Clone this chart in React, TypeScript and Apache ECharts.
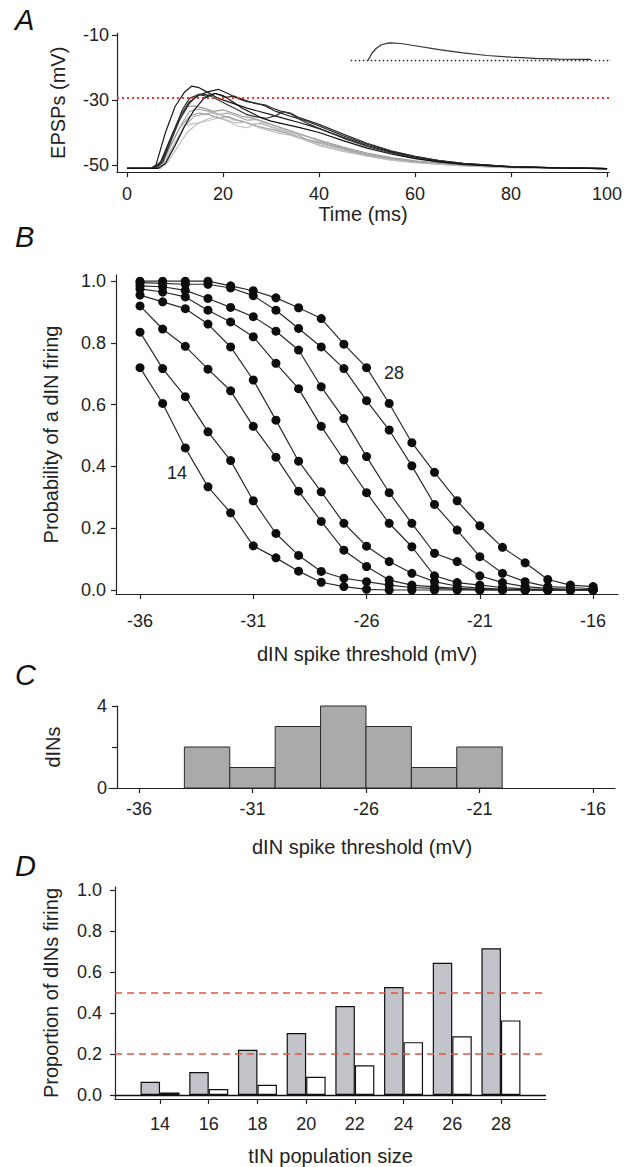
import React, { useEffect, useRef } from "react";
import * as echarts from "echarts";

// ---------- Panel A: EPSP traces ----------
const timeTicks = [0, 20, 40, 60, 80, 100];
const epspTicks = [-50, -30, -10];
const epspThreshold = -29.3;

const blackTrace1 = [[0,-51],[5,-51],[6,-50],[8,-40],[10,-32],[12,-27.5],[13.5,-25.7],[15,-26.2],[17,-27.8],[19,-29.5],[21,-30.5],[23,-31.5],[25,-32.5],[27,-33.3],[30,-34.5],[33,-35.8],[36,-37],[40,-38.8],[45,-41.5],[50,-44],[55,-46],[60,-47.6],[65,-48.8],[70,-49.6],[80,-50.5],[90,-50.9],[100,-51.1]];
const blackTrace2 = [[0,-51],[5.5,-51],[7,-49],[9,-42],[11,-35],[13,-30.5],[15,-28.5],[17,-27.4],[19,-26.7],[21,-28],[23,-29.5],[25,-30.5],[27,-31],[29,-32],[31,-33.5],[34,-35],[37,-36.3],[40,-38],[45,-41],[50,-43.6],[55,-45.8],[60,-47.4],[65,-48.6],[70,-49.5],[80,-50.5],[90,-50.9],[100,-51.1]];
const blackTrace3 = [[0,-51],[5.5,-51],[7,-49.5],[9,-43],[11,-36],[13,-31],[14.8,-28.3],[16.5,-28.8],[18.5,-28],[20.5,-29.2],[22.3,-28.8],[24.5,-30],[26.5,-31],[28.7,-31.5],[30.5,-32.6],[32,-33.4],[34,-34],[36,-35.5],[38,-36.5],[40,-37.5],[45,-40.5],[50,-43.3],[55,-45.6],[60,-47.3],[65,-48.6],[70,-49.5],[80,-50.5],[90,-50.9],[100,-51.1]];
const blackTrace4 = [[0,-51],[6,-51],[7.5,-49],[9.5,-41],[11.5,-33],[13,-29.5],[15,-28.2],[17,-28.5],[19,-30],[21,-31.5],[23,-33],[25,-34.5],[27,-35.2],[29,-35.6],[31,-34.8],[32.5,-33.6],[34,-34.2],[36,-36],[38,-37.5],[40,-38.7],[45,-41.7],[50,-44.3],[55,-46.3],[60,-47.9],[65,-49],[70,-49.7],[80,-50.6],[90,-50.9],[100,-51.1]];
const blackTrace5 = [[0,-51],[6.5,-51],[8,-49.5],[10,-44],[12,-38],[14,-33],[16,-29.5],[18.3,-27.9],[20,-28.6],[22,-30.5],[24,-32.5],[26,-34],[28,-35.5],[30,-36.5],[33,-37.5],[36,-38.5],[40,-40],[45,-42.5],[50,-44.8],[55,-46.6],[60,-48],[65,-49],[70,-49.8],[80,-50.6],[90,-50.9],[100,-51.1]];

const greyTrace1 = [[0,-51],[5.5,-51],[7,-49],[9,-42],[11,-35.5],[12.5,-32],[14,-31.8],[16,-32.5],[18,-33.5],[20,-33],[22,-34],[24,-35],[26,-35.5],[28,-36.5],[30,-37.5],[33,-39],[36,-40.5],[40,-42.3],[45,-44.5],[50,-46.3],[55,-47.7],[60,-48.7],[70,-50],[80,-50.6],[100,-51.1]];
const greyTrace2 = [[0,-51],[6,-51],[7.5,-49],[9.5,-43],[11.5,-37],[13,-33.5],[15,-32.8],[17,-33.5],[19,-34.5],[21,-34],[23,-35],[25,-36.2],[27,-36],[29,-37],[31,-38],[34,-39.5],[37,-41],[40,-42.6],[45,-44.8],[50,-46.6],[55,-48],[60,-48.9],[70,-50.1],[80,-50.7],[100,-51.1]];
const greyTrace3 = [[0,-51],[6,-51],[8,-48.5],[10,-43],[12,-38],[14,-35],[16,-34.4],[18,-33.8],[20,-34.8],[22,-36],[24,-36.5],[26,-37.5],[28,-37],[30,-38.2],[33,-39.5],[36,-41],[38,-42.5],[40,-43.3],[45,-45.3],[50,-47],[55,-48.3],[60,-49.1],[70,-50.2],[80,-50.7],[100,-51.1]];
const greyTrace4 = [[0,-51],[6.5,-51],[8,-49],[10,-44],[11.8,-38],[13,-37.5],[15,-37],[17,-36.3],[19,-35.5],[21,-36.5],[23,-38],[25,-38.5],[27,-37.2],[29,-37.8],[31,-39],[34,-40.5],[37,-42],[40,-43.7],[45,-45.6],[50,-47.2],[55,-48.4],[60,-49.2],[70,-50.3],[80,-50.8],[100,-51.1]];
const greyTrace5 = [[0,-51],[5.8,-51],[7.2,-49.5],[9,-44],[11,-38.5],[13,-35],[15,-34],[17,-34.5],[19,-35.5],[21,-35],[23,-36.2],[25,-37],[27,-38],[30,-39],[33,-40],[36,-41.6],[40,-43],[45,-45],[50,-46.8],[55,-48.1],[60,-49],[70,-50.1],[80,-50.7],[100,-51.1]];
const greyTrace6 = [[0,-51],[7,-51],[8.5,-49],[10.5,-44.5],[12.5,-40],[14.5,-37.5],[16.5,-36],[18.5,-35],[20.5,-36],[22.5,-37],[24.5,-36.8],[26.5,-38],[28.5,-39],[31,-40],[34,-40.8],[37,-42.3],[40,-44],[45,-45.8],[50,-47.3],[55,-48.5],[60,-49.3],[70,-50.3],[80,-50.8],[100,-51.1]];

const blackTraces = [blackTrace1, blackTrace2, blackTrace3, blackTrace4, blackTrace5];
const blackColors = ["#1a1a1a", "#222222", "#2b2b2b", "#333333", "#111111"];
const greyTraces = [greyTrace1, greyTrace2, greyTrace3, greyTrace4, greyTrace5, greyTrace6];
const greyColors = ["#9a9a9a", "#a8a8a8", "#b4b4b4", "#c4c4c4", "#a2a2a2", "#bdbdbd"];

const insetTrace = [[50.2,-17.8],[51,-15.6],[52,-14],[53,-13],[54.6,-12.4],[57,-12.6],[60,-13.3],[65,-14.5],[70,-15.5],[75,-16.3],[80,-16.8],[85,-17.2],[90,-17.4],[96.6,-17.5]];
const insetBaseline = [[46.6,-17.8],[101.6,-17.8]];

// ---------- Panel B: probability curves ----------
const thresholds = [-36,-35,-34,-33,-32,-31,-30,-29,-28,-27,-26,-25,-24,-23,-22,-21,-20,-19,-18,-17,-16];
const thresholdTicks = [-36, -31, -26, -21, -16];
const probTicks = [0, 0.2, 0.4, 0.6, 0.8, 1.0];
const prob14 = [0.72,0.604,0.46,0.334,0.25,0.143,0.104,0.061,0.025,0.011,0.002,0,0,0,0,0,0,0,0,0,0];
const prob16 = [0.835,0.717,0.626,0.512,0.419,0.289,0.183,0.112,0.06,0.038,0.027,0.016,0.008,0.005,0.002,0.001,0,0,0,0,0];
const prob18 = [0.92,0.845,0.789,0.715,0.645,0.53,0.43,0.32,0.222,0.129,0.076,0.032,0.016,0.01,0.005,0.002,0.001,0,0,0,0];
const prob20 = [0.955,0.933,0.911,0.861,0.787,0.68,0.55,0.417,0.318,0.216,0.142,0.092,0.054,0.027,0.012,0.006,0.003,0.001,0,0,0];
const prob22 = [0.975,0.965,0.949,0.906,0.868,0.82,0.734,0.652,0.53,0.421,0.315,0.216,0.14,0.046,0.024,0.016,0.008,0.004,0.002,0.001,0];
const prob24 = [0.985,0.982,0.97,0.944,0.915,0.885,0.838,0.777,0.658,0.555,0.432,0.315,0.216,0.119,0.092,0.046,0.024,0.011,0.005,0.002,0.001];
const prob26 = [0.995,0.993,0.99,0.99,0.978,0.953,0.906,0.847,0.787,0.717,0.613,0.518,0.402,0.277,0.194,0.108,0.054,0.027,0.011,0.008,0.004];
const prob28 = [1.0,1.0,1.0,1.0,0.985,0.969,0.946,0.914,0.879,0.796,0.72,0.604,0.477,0.381,0.289,0.208,0.138,0.088,0.034,0.016,0.011];
const probCurves = [prob14, prob16, prob18, prob20, prob22, prob24, prob26, prob28];
const curveLabels = [
  { text: "14", at: [-34.37, 0.379] },
  { text: "28", at: [-24.79, 0.702] },
];

// ---------- Panel C: threshold histogram ----------
const histCenters = [-33, -31, -29, -27, -25, -23, -21];
const histCounts = [2, 1, 3, 4, 3, 1, 2];
const histBinWidth = 2;
const countTicks = [0, 2, 4];
const countLabels = [0, 4];

// ---------- Panel D: proportion firing ----------
const popSizes = [14, 16, 18, 20, 22, 24, 26, 28];
const propGrey = [0.065, 0.112, 0.221, 0.302, 0.434, 0.527, 0.645, 0.716];
const propWhite = [0.012, 0.029, 0.05, 0.089, 0.145, 0.258, 0.287, 0.364];
const propRefLines = [0.5, 0.2];

const FONT = "Liberation Sans, Arial, Helvetica, sans-serif";
const INK = "#222";
const TICK_FS = 18;
const NAME_FS = 20;

function axisBase(extra: any) {
  return {
    axisLine: { show: true, onZero: false, lineStyle: { color: INK, width: 1.2 } },
    splitLine: { show: false },
    nameTextStyle: { color: INK, fontSize: NAME_FS, fontFamily: FONT },
    nameLocation: "middle",
    ...extra,
  };
}
const ticks = (vals: number[]) => ({ show: true, length: 5, customValues: vals, lineStyle: { color: INK, width: 1.2 } });
const labels = (vals: number[], margin: number, formatter?: any) => ({
  color: INK, fontSize: TICK_FS, fontFamily: FONT, margin, customValues: vals, ...(formatter ? { formatter } : {}),
});

export default function App() {
  const ref = useRef<HTMLDivElement>(null);
  useEffect(() => {
    if (!ref.current) return;
    const chart = echarts.init(ref.current, undefined, { renderer: "svg" });

    const series: any[] = [];
    // Panel A
    greyTraces.forEach((d, i) => {
      series.push({
        type: "line", xAxisIndex: 0, yAxisIndex: 0, data: d, showSymbol: false,
        lineStyle: { color: greyColors[i], width: 1.2 }, z: 2,
      });
    });
    blackTraces.forEach((d, i) => {
      series.push({
        type: "line", xAxisIndex: 0, yAxisIndex: 0, data: d, showSymbol: false,
        lineStyle: { color: blackColors[i], width: 1.2 }, z: 3,
      });
    });
    series.push({
      type: "line", xAxisIndex: 0, yAxisIndex: 0, data: insetTrace, showSymbol: false, clip: false,
      lineStyle: { color: "#333", width: 1.2 }, z: 3,
    });
    series.push({
      type: "line", xAxisIndex: 0, yAxisIndex: 0, data: insetBaseline, showSymbol: false, clip: false,
      lineStyle: { color: "#222", width: 1.5, type: [1.5, 2.5] }, z: 3,
    });
    series.push({
      type: "line", xAxisIndex: 0, yAxisIndex: 0, data: [[50, -51]], showSymbol: false, z: 4,
      markLine: {
        silent: true, symbol: "none", label: { show: false },
        lineStyle: { color: "#e8392c", width: 2, type: [2, 3] },
        data: [{ yAxis: epspThreshold }],
      },
    });
    // Panel B
    probCurves.forEach((p, i) => {
      const s: any = {
        type: "line", xAxisIndex: 1, yAxisIndex: 1,
        data: thresholds.map((t, j) => [t, p[j]]),
        symbol: "circle", symbolSize: 9,
        itemStyle: { color: "#0d0d0d" },
        lineStyle: { color: "#2a2a2a", width: 1.2 },
      };
      const lab = curveLabels.find((l) => l.text === String(14 + 2 * i));
      if (lab) {
        s.markPoint = {
          symbol: "circle", symbolSize: 1, itemStyle: { color: "rgba(0,0,0,0)" },
          label: { show: true, position: "inside", formatter: lab.text, color: INK, fontSize: TICK_FS, fontFamily: FONT },
          data: [{ coord: lab.at }],
        };
      }
      series.push(s);
    });
    // Panel C
    series.push({
      type: "custom", xAxisIndex: 2, yAxisIndex: 2,
      data: histCenters.map((c, i) => [c, histCounts[i]]),
      encode: { x: 0, y: 1 },
      renderItem: (params: any, api: any) => {
        const c = api.value(0);
        const n = api.value(1);
        const p0 = api.coord([c - histBinWidth / 2, n]);
        const p1 = api.coord([c + histBinWidth / 2, 0]);
        return {
          type: "rect",
          shape: { x: p0[0], y: p0[1], width: p1[0] - p0[0], height: p1[1] - p0[1] },
          style: { fill: "#aaaaaa", stroke: "#2a2a2a", lineWidth: 1 },
        };
      },
    });
    // Panel D
    series.push({
      type: "line", xAxisIndex: 3, yAxisIndex: 3, data: [[20, 0]], showSymbol: false, z: 1,
      markLine: {
        silent: true, symbol: "none", label: { show: false },
        data: propRefLines.map((v) => ({ yAxis: v, lineStyle: { color: "#e8533c", width: 1.5, type: [7, 5] } })),
      },
    });
    series.push({
      type: "bar", xAxisIndex: 3, yAxisIndex: 3, z: 3,
      data: popSizes.map((p, i) => [p, propGrey[i]]),
      barWidth: 19.5, barGap: "0%",
      itemStyle: { color: "#c3c4c9", borderColor: "#111", borderWidth: 1.2 },
    });
    series.push({
      type: "bar", xAxisIndex: 3, yAxisIndex: 3, z: 3,
      data: popSizes.map((p, i) => [p, propWhite[i]]),
      barWidth: 19.5, barGap: "0%",
      itemStyle: { color: "#ffffff", borderColor: "#111", borderWidth: 1.2 },
    });
    series.push({
      type: "line", xAxisIndex: 3, yAxisIndex: 3, data: [[20, 0]], showSymbol: false, z: 4,
      markLine: {
        silent: true, symbol: "none", label: { show: false },
        data: [{ yAxis: 0, lineStyle: { color: "#111", width: 1.3, type: "solid" } }],
      },
    });

    const letter = (t: string, x: number, y: number) => ({
      type: "text", left: x, top: y,
      style: { text: t, fontSize: 29, fontStyle: "italic", fontFamily: FONT, fill: "#111" },
    });

    chart.setOption({
      animation: false,
      backgroundColor: "#ffffff",
      grid: [
        { left: 117, top: 33.4, width: 492, height: 138.8 },
        { left: 116, top: 275, width: 502, height: 319 },
        { left: 109, top: 706, width: 506, height: 82 },
        { left: 115, top: 887, width: 431, height: 212 },
      ],
      xAxis: [
        axisBase({ gridIndex: 0, type: "value", min: -2.1, max: 100.4, name: "Time (ms)", nameGap: 26,
          axisTick: ticks(timeTicks), axisLabel: labels(timeTicks, 13) }),
        axisBase({ gridIndex: 1, type: "value", min: -37.06, max: -14.9, name: "dIN spike threshold (mV)", nameGap: 50,
          axisTick: ticks(thresholdTicks), axisLabel: labels(thresholdTicks, 18) }),
        axisBase({ gridIndex: 2, type: "value", min: -37.32, max: -15.03, name: "dIN spike threshold (mV)", nameGap: 49,
          axisTick: ticks(thresholdTicks), axisLabel: labels(thresholdTicks, 12) }),
        axisBase({ gridIndex: 3, type: "value", min: 12.15, max: 29.85, name: "tIN population size", nameGap: 47,
          axisTick: ticks(popSizes), axisLabel: labels(popSizes, 16) }),
      ],
      yAxis: [
        axisBase({ gridIndex: 0, type: "value", min: -52.2, max: -9.5, name: "EPSPs (mV)", nameGap: 49,
          axisTick: ticks(epspTicks), axisLabel: labels(epspTicks, 8) }),
        axisBase({ gridIndex: 1, type: "value", min: -0.013, max: 1.02, name: "Probability of a dIN firing", nameGap: 55,
          axisTick: ticks(probTicks), axisLabel: labels(probTicks, 10, (v: number) => v.toFixed(1)) }),
        axisBase({ gridIndex: 2, type: "value", min: 0, max: 4, offset: -8, name: "dINs", nameGap: 54,
          axisTick: ticks(countTicks), axisLabel: labels(countLabels, 10) }),
        axisBase({ gridIndex: 3, type: "value", min: -0.0195, max: 1.015, name: "Proportion of dINs firing", nameGap: 54,
          axisTick: ticks(probTicks), axisLabel: labels(probTicks, 13, (v: number) => v.toFixed(1)) }),
      ],
      graphic: [letter("A", 15, 5), letter("B", 15, 222), letter("C", 15, 660), letter("D", 15, 851)],
      series,
    });
    return () => chart.dispose();
  }, []);
  return (
    <div
      ref={ref}
      style={{ position: "absolute", left: 0, top: 0, width: 629, height: 1167, background: "#fff" }}
    />
  );
}
